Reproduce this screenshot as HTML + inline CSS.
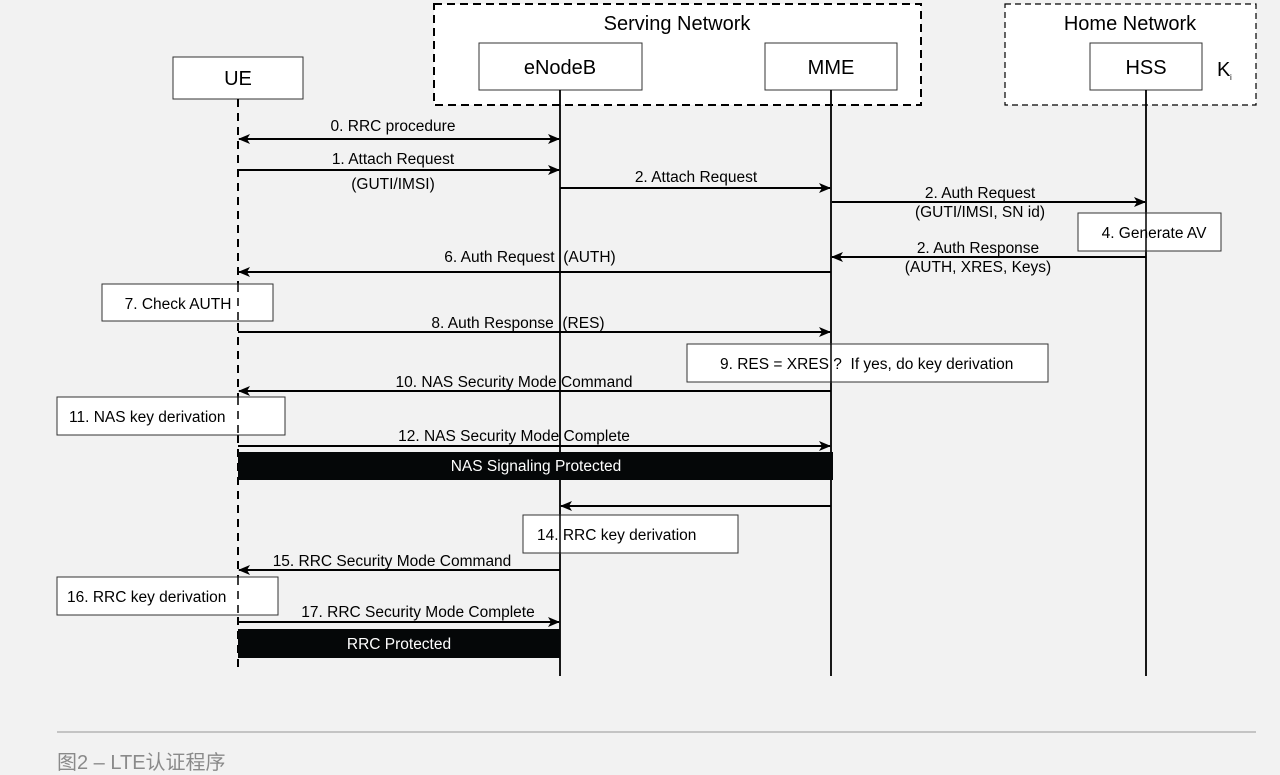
<!DOCTYPE html>
<html><head><meta charset="utf-8"><style>
html,body{margin:0;padding:0;background:#f2f2f2;}
svg{display:block;font-family:"Liberation Sans",Arial,sans-serif;}
.cap{position:absolute;left:57px;top:746px;font-family:"Liberation Sans","Noto Sans CJK SC",sans-serif;font-size:20px;color:#8a8a8a;}
</style></head><body>
<svg width="1280" height="773" viewBox="0 0 1280 773" xmlns="http://www.w3.org/2000/svg">
<defs>
<marker id="a" markerWidth="12" markerHeight="10" refX="11" refY="5" orient="auto" markerUnits="userSpaceOnUse">
<path d="M0,0 L12,5 L0,10 L3,5 z" fill="#000"/></marker>
<marker id="b" markerWidth="12" markerHeight="10" refX="1" refY="5" orient="auto" markerUnits="userSpaceOnUse">
<path d="M12,0 L0,5 L12,10 L9,5 z" fill="#000"/></marker>
</defs>
<rect width="1280" height="773" fill="#f2f2f2"/>
<rect x="434" y="4" width="487" height="101" fill="#fff" stroke="#000" stroke-width="2" stroke-dasharray="8,5"/>
<rect x="1005" y="4" width="251" height="101" fill="#fff" stroke="#000" stroke-width="1.2" stroke-dasharray="6,4"/>
<text x="677" y="30" font-size="20" text-anchor="middle">Serving Network</text>
<text x="1130" y="30" font-size="20" text-anchor="middle">Home Network</text>
<g fill="#fff" stroke="#333" stroke-width="1">
<rect x="173" y="57" width="130" height="42"/>
<rect x="479" y="43" width="163" height="47"/>
<rect x="765" y="43" width="132" height="47"/>
<rect x="1090" y="43" width="112" height="47"/>
</g>
<g font-size="20" text-anchor="middle">
<text x="238" y="85">UE</text>
<text x="560" y="74">eNodeB</text>
<text x="831" y="74">MME</text>
<text x="1146" y="74">HSS</text>
</g>
<text x="1217" y="76" font-size="20">K</text><text x="1230" y="80" font-size="8">i</text>
<line x1="238" y1="99" x2="238" y2="670" stroke="#000" stroke-width="2" stroke-dasharray="8,6"/>
<g stroke="#000" stroke-width="1.8">
<line x1="560" y1="90" x2="560" y2="676"/>
<line x1="831" y1="90" x2="831" y2="676"/>
<line x1="1146" y1="90" x2="1146" y2="676"/>
</g>
<g fill="#fff" stroke="#333" stroke-width="1">
<rect x="1078" y="213" width="143" height="38"/>
<rect x="102" y="284" width="171" height="37"/>
<rect x="687" y="344" width="361" height="38"/>
<rect x="57" y="397" width="228" height="38"/>
<rect x="523" y="515" width="215" height="38"/>
<rect x="57" y="577" width="221" height="38"/>
</g>
<g stroke="#000" stroke-width="1.5" stroke-dasharray="8,6">
<line x1="238" y1="284" x2="238" y2="321"/>
<line x1="238" y1="397" x2="238" y2="435"/>
<line x1="238" y1="577" x2="238" y2="615"/>
</g>
<g stroke="#000" stroke-width="1.5">
<line x1="1146" y1="213" x2="1146" y2="251"/>
<line x1="831" y1="344" x2="831" y2="382"/>
<line x1="560" y1="515" x2="560" y2="553"/>
</g>
<g stroke="#000" stroke-width="2" fill="none">
<line x1="239" y1="139" x2="559" y2="139" marker-start="url(#b)" marker-end="url(#a)"/>
<line x1="238" y1="170" x2="559" y2="170" marker-end="url(#a)"/>
<line x1="560" y1="188" x2="830" y2="188" marker-end="url(#a)"/>
<line x1="832" y1="202" x2="1145" y2="202" marker-end="url(#a)"/>
<line x1="1146" y1="257" x2="832" y2="257" marker-end="url(#a)"/>
<line x1="831" y1="272" x2="239" y2="272" marker-end="url(#a)"/>
<line x1="238" y1="332" x2="830" y2="332" marker-end="url(#a)"/>
<line x1="831" y1="391" x2="239" y2="391" marker-end="url(#a)"/>
<line x1="238" y1="446" x2="830" y2="446" marker-end="url(#a)"/>
<line x1="831" y1="506" x2="561" y2="506" marker-end="url(#a)"/>
<line x1="560" y1="570" x2="239" y2="570" marker-end="url(#a)"/>
<line x1="238" y1="622" x2="559" y2="622" marker-end="url(#a)"/>
</g>
<rect x="238" y="452" width="595" height="28" fill="#050708"/>
<rect x="238" y="629" width="322" height="29" fill="#050708"/>
<g font-size="15.5" text-anchor="middle">
<text x="393" y="131">0. RRC procedure</text>
<text x="393" y="164">1. Attach Request</text>
<text x="393" y="189">(GUTI/IMSI)</text>
<text x="696" y="182">2. Attach Request</text>
<text x="980" y="198">2. Auth Request</text>
<text x="980" y="217">(GUTI/IMSI, SN id)</text>
<text x="1154" y="238">4. Generate AV</text>
<text x="978" y="253">2. Auth Response</text>
<text x="978" y="272">(AUTH, XRES, Keys)</text>
<text x="530" y="262" xml:space="preserve">6. Auth Request  (AUTH)</text>
<text x="178" y="309">7. Check AUTH</text>
<text x="518" y="328" xml:space="preserve">8. Auth Response  (RES)</text>
<text x="514" y="387">10. NAS Security Mode Command</text>
<text x="514" y="441">12. NAS Security Mode Complete</text>
<text x="392" y="566">15. RRC Security Mode Command</text>
<text x="418" y="617">17. RRC Security Mode Complete</text>
<text x="536" y="471" fill="#fff">NAS Signaling Protected</text>
<text x="399" y="649" fill="#fff">RRC Protected</text>
</g>
<g font-size="15.5">
<text x="720" y="369" xml:space="preserve">9. RES = XRES ?  If yes, do key derivation</text>
<text x="69" y="422">11. NAS key derivation</text>
<text x="537" y="540">14. RRC key derivation</text>
<text x="67" y="602">16. RRC key derivation</text>
</g>
<line x1="57" y1="732" x2="1256" y2="732" stroke="#c4c4c4" stroke-width="2"/>
</svg>
<div class="cap">图2 – LTE认证程序</div>
</body></html>
